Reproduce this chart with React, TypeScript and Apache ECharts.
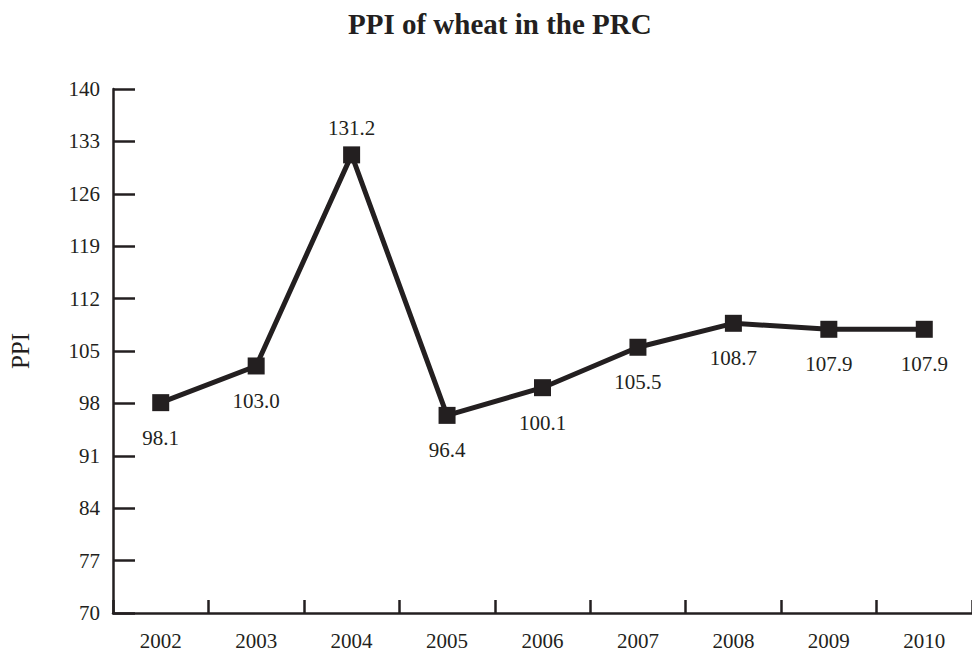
import React, { useEffect, useRef } from "react";
import * as echarts from "echarts";

const years = ["2002", "2003", "2004", "2005", "2006", "2007", "2008", "2009", "2010"];
const ppi = [98.1, 103.0, 131.2, 96.4, 100.1, 105.5, 108.7, 107.9, 107.9];
const labelPositions = ["bottom", "bottom", "top", "bottom", "bottom", "bottom", "bottom", "bottom", "bottom"];

const INK = "#231f20";
const FONT = "'Liberation Serif', 'Times New Roman', serif";

export default function App() {
  const ref = useRef<HTMLDivElement>(null);
  useEffect(() => {
    if (!ref.current) return;
    const chart = echarts.init(ref.current, undefined, { renderer: "svg" });
    chart.setOption({
      animation: false,
      backgroundColor: "#ffffff",
      title: {
        text: "PPI of wheat in the PRC",
        left: 343,
        top: 4,
        textStyle: { fontFamily: FONT, fontWeight: "bold", fontSize: 29, color: INK },
      },
      grid: { left: 113, right: -5, top: 89, bottom: 41 },
      xAxis: {
        type: "category",
        data: years,
        boundaryGap: true,
        axisLine: { lineStyle: { color: INK, width: 2.5 } },
        axisTick: { show: true, inside: true, length: 13, lineStyle: { color: INK, width: 2.5 } },
        axisLabel: { fontFamily: FONT, fontSize: 21, color: INK, margin: 17 },
      },
      yAxis: {
        type: "value",
        min: 70,
        max: 140,
        interval: 7,
        name: "PPI",
        nameLocation: "middle",
        nameGap: 80,
        nameRotate: 90,
        nameTextStyle: { fontFamily: FONT, fontSize: 25, color: INK },
        axisLine: { show: true, lineStyle: { color: INK, width: 2.5 } },
        axisTick: { show: true, inside: true, length: 22, lineStyle: { color: INK, width: 2.5 } },
        axisLabel: { fontFamily: FONT, fontSize: 21, color: INK, margin: 13 },
        splitLine: { show: false },
      },
      series: [
        {
          type: "line",
          data: ppi.map((v, i) => ({
            value: v,
            label: {
              position: labelPositions[i],
              distance: labelPositions[i] === "top" ? 8 : 16,
            },
          })),
          symbol: "rect",
          symbolSize: 17,
          lineStyle: { color: INK, width: 5 },
          itemStyle: { color: INK },
          label: {
            show: true,
            fontFamily: FONT,
            fontSize: 21,
            color: INK,
            formatter: (p: any) => Number(p.value).toFixed(1),
          },
        },
      ],
    });
    return () => chart.dispose();
  }, []);
  return (
    <div
      ref={ref}
      style={{ position: "absolute", left: 0, top: 0, width: 972, height: 654, overflow: "hidden" }}
    />
  );
}
